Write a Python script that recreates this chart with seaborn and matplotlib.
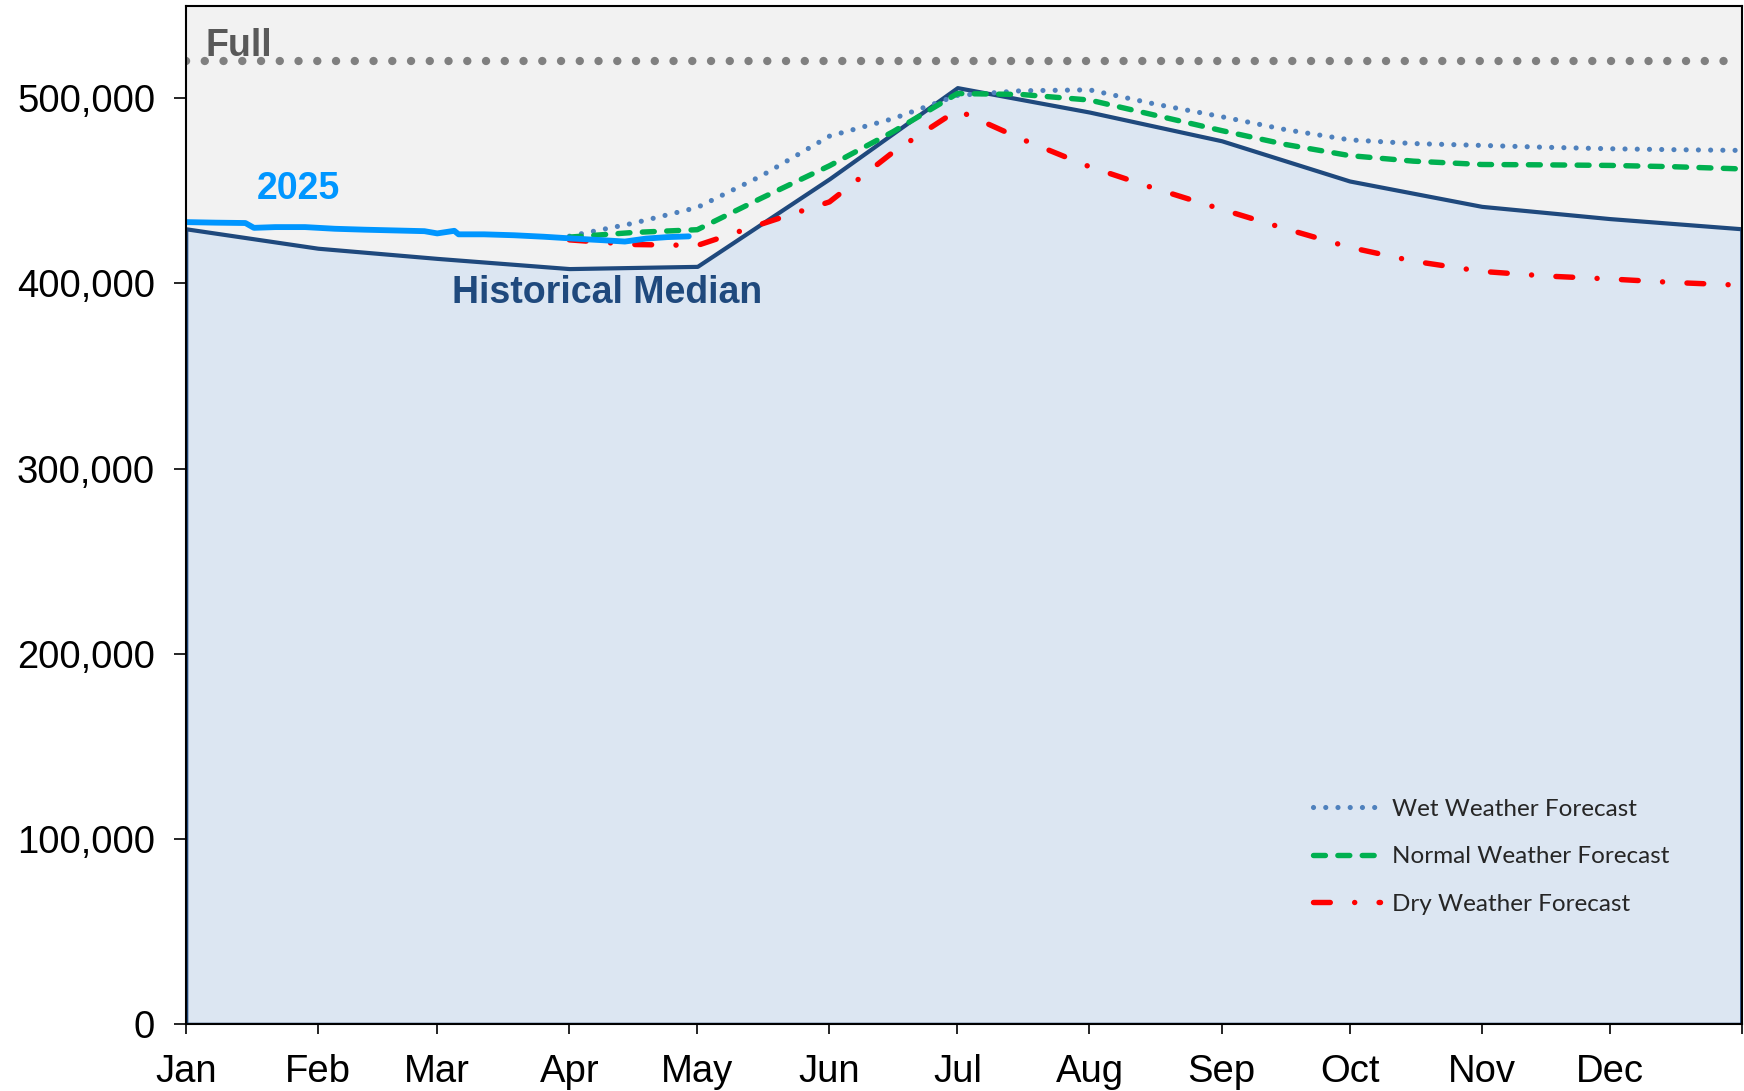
import numpy as np
import pandas as pd
import seaborn as sns
import matplotlib.pyplot as plt
from matplotlib.ticker import FuncFormatter

# dias del año (0 = 1 de enero)
month_days = [0, 31, 59, 90, 120, 151, 181, 212, 243, 273, 304, 334]
month_labels = ['Jan', 'Feb', 'Mar', 'Apr', 'May', 'Jun',
                'Jul', 'Aug', 'Sep', 'Oct', 'Nov', 'Dec']

# mediana historica
hist_days = [0, 31, 59, 90, 120, 151, 181, 212, 243, 273, 304, 334, 365]
hist_vals = [429500, 419000, 413500, 408000, 409200, 456500, 505700,
             492500, 477000, 455300, 441600, 435000, 429500]

# 2025 observado
days_2025 = [0, 7, 14, 16, 21, 28, 35, 42, 49, 56, 59, 63, 64, 70, 77,
             84, 91, 98, 103, 108, 113, 118]
vals_2025 = [433100, 432800, 432600, 430000, 430400, 430400, 429500, 429000,
             428600, 428200, 427000, 428400, 426500, 426500, 426000, 425200,
             424200, 423300, 422600, 424200, 425000, 425400]

# pronosticos
fc_days = [90, 105, 120, 135, 151, 166, 181, 196, 212, 227, 243, 258, 273,
           288, 304, 319, 334, 349, 365]
wet_vals = [425500, 432500, 441000, 458000, 479500, 489000, 501500, 504000,
            504500, 497000, 490000, 483000, 477500, 475500, 474500, 473500,
            472700, 472200, 471800]
normal_vals = [425000, 427500, 429000, 446000, 463500, 482000, 502500, 502000,
               499000, 491000, 482500, 475000, 469000, 466000, 464200, 464000,
               463700, 463000, 461800]
dry_vals = [423500, 421000, 420500, 432000, 444000, 471000, 493500, 478000,
            463000, 451500, 440000, 429500, 419500, 412000, 406500, 404000,
            402400, 400500, 399000]

full_level = 520000

navy = '#1F497D'
blue25 = '#0096FF'

sns.set_style('ticks')
plt.rcParams['font.family'] = ['Liberation Sans', 'DejaVu Sans']

fig = plt.figure(figsize=(17.44, 10.91), dpi=100)
ax = fig.add_axes([0.1065, 0.0611, 0.8922, 0.9338])
ax.set_facecolor('#F2F2F2')

# area de la mediana
ax.fill_between(hist_days, hist_vals, 0, facecolor='#DCE6F2',
                edgecolor=navy, linewidth=3.0, zorder=1)

# linea "Full"
sns.lineplot(x=[0, 365], y=[full_level, full_level], ax=ax, color='#808080',
             linewidth=6.0, linestyle=(0, (0.01, 2.24)),
             dash_capstyle='round', zorder=2)

sns.lineplot(x=fc_days, y=wet_vals, ax=ax, color='#4F81BD', linewidth=3.7,
             linestyle=(0, (0.01, 2.37)), dash_capstyle='round', zorder=3)
wet_line = ax.lines[-1]
sns.lineplot(x=fc_days, y=normal_vals, ax=ax, color='#00B050', linewidth=3.9,
             linestyle=(0, (2.2, 2.3)), dash_capstyle='round', zorder=4)
normal_line = ax.lines[-1]
sns.lineplot(x=fc_days, y=dry_vals, ax=ax, color='#FF0000', linewidth=3.9,
             linestyle=(0, (3.1, 4.5, 0.01, 4.5)), dash_capstyle='round',
             zorder=5)
dry_line = ax.lines[-1]

sns.lineplot(x=days_2025, y=vals_2025, ax=ax, color=blue25, linewidth=4.2,
             solid_capstyle='round', zorder=6)

# textos
ax.text(4.7, 523000, 'Full', color='#595959', fontsize=27,
        fontweight='bold', va='baseline')
ax.text(16.7, 445500, '2025', color=blue25, fontsize=27,
        fontweight='bold', va='baseline')
ax.text(62.4, 389500, 'Historical Median', color=navy, fontsize=27,
        fontweight='bold', va='baseline')

ax.legend([wet_line, normal_line, dry_line],
          ['Wet Weather Forecast', 'Normal Weather Forecast',
           'Dry Weather Forecast'],
          loc='upper left', bbox_to_anchor=(0.7245, 0.2212),
          frameon=False, borderpad=0, borderaxespad=0,
          handlelength=2.75, handletextpad=0.5, labelspacing=1.08,
          prop={'family': 'Lato', 'size': 17.5})

ax.set_xlim(0, 365)
ax.set_ylim(0, 550000)
ax.set_xticks(month_days + [365])
ax.set_xticklabels(month_labels + [''])
ax.set_yticks(np.arange(0, 500001, 100000))
ax.yaxis.set_major_formatter(FuncFormatter(lambda v, p: f'{v:,.0f}'))
ax.tick_params(axis='y', length=9, width=1.2, pad=13, labelsize=27.5,
               colors='black')
ax.tick_params(axis='x', length=7, width=1.2, pad=14, labelsize=27.5,
               colors='black')
ax.set_xlabel('')
ax.set_ylabel('')
for s in ax.spines.values():
    s.set_color('black')
    s.set_linewidth(1.5)
    s.set_zorder(7)
ax.grid(False)

fig.savefig('out.png', dpi=100)
